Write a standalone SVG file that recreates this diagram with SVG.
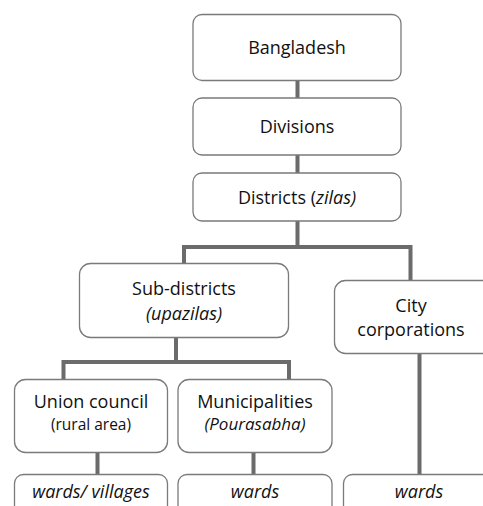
<svg xmlns="http://www.w3.org/2000/svg" width="483" height="506" viewBox="0 0 483 506">
<style>
.box{fill:#fff;stroke:#7a7a7a;stroke-width:1.3}
.t{font-family:"Open Sans","Noto Sans",sans-serif;font-size:18px;fill:#111;text-anchor:middle}
.s{font-size:15.5px}
.m{font-size:17px}
.i{font-style:italic}
.c{fill:none;stroke:#6b6b6b;stroke-width:4}
</style>
<rect width="483" height="506" fill="#fff"/>
<g id="connectors">
<path class="c" d="M297.5 80V98M297.5 155V173M297.5 221V247M184 265V247H410.5V281M176 338V362M63.5 380V362H289V380M97.5 452V475M253.5 452V475M419.5 353V475"/>
</g>
<g id="bangladesh"><rect class="box" x="193" y="14.5" width="208" height="66" rx="9"/><text class="t" x="297" y="54">Bangladesh</text></g>
<g id="divisions"><rect class="box" x="193" y="98" width="208" height="57" rx="9"/><text class="t" x="297" y="133">Divisions</text></g>
<g id="districts"><rect class="box" x="193" y="173" width="208" height="48" rx="9"/><text class="t" x="297" y="204">Districts (<tspan class="i">zilas)</tspan></text></g>
<g id="subdistricts"><rect class="box" x="79.5" y="263.5" width="209" height="74" rx="11"/><text class="t" x="184" y="295">Sub-districts</text><text class="t i" x="184" y="320">(upazilas)</text></g>
<g id="city"><rect class="box" x="334.5" y="280.5" width="160" height="73" rx="11"/><text class="t" x="411" y="311.5">City</text><text class="t" x="411" y="336">corporations</text></g>
<g id="union"><rect class="box" x="14.5" y="379.5" width="153" height="73" rx="11"/><text class="t" x="91" y="408">Union council</text><text class="t s" x="91" y="430">(rural area)</text></g>
<g id="municipalities"><rect class="box" x="178" y="379.5" width="154" height="73" rx="11"/><text class="t" x="255" y="408">Municipalities</text><text class="t m i" x="255" y="430">(Pourasabha)</text></g>
<g id="wards1"><rect class="box" x="14.5" y="474.5" width="153" height="50" rx="9"/><text class="t i" x="91" y="498">wards/ villages</text></g>
<g id="wards2"><rect class="box" x="178" y="474.5" width="154" height="50" rx="9"/><text class="t i" x="255" y="498">wards</text></g>
<g id="wards3"><rect class="box" x="343.5" y="474.5" width="160" height="50" rx="9"/><text class="t i" x="419" y="498">wards</text></g>
</svg>
